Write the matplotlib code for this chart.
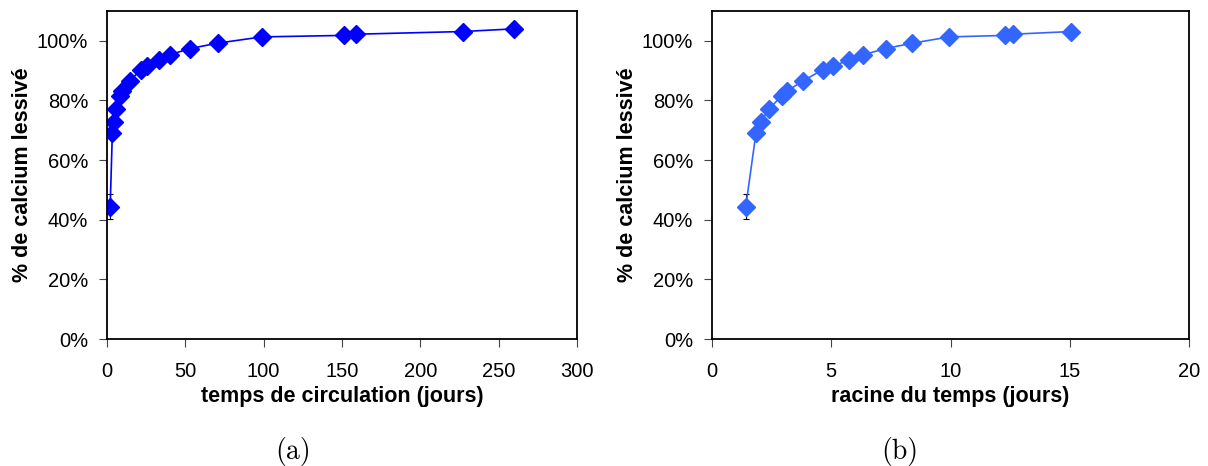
import numpy as np
import matplotlib
matplotlib.use("Agg")
from matplotlib import pyplot as plt
from matplotlib.ticker import PercentFormatter

# temps de circulation (jours) et % de calcium lessivé
jours = [2, 3.4, 4.2, 5.7, 8.5, 9.8, 14.7, 21.5, 25.6, 33, 40, 53, 70.6, 98.8, 151, 159, 227, 260]
calcium = [44.3, 69.1, 72.9, 77.1, 81.5, 83.1, 86.6, 90.3, 91.4, 93.6, 95.3, 97.4,
           99.2, 101.3, 101.8, 102.2, 103.1, 104.0]
erreur = [4.2] + [0] * (len(jours) - 1)

# panneau (b) : racine du temps, sans le dernier point
racine = np.sqrt(jours[:-1])
calcium_b = calcium[:-1]
erreur_b = erreur[:-1]

plt.rcParams['font.family'] = ['Liberation Sans', 'DejaVu Sans']

fig = plt.figure(figsize=(12.08, 4.66), dpi=100)
ax1 = fig.add_axes([0.0886, 0.2725, 0.389, 0.704])
ax2 = fig.add_axes([0.5894, 0.2725, 0.395, 0.704])


def style(ax, x, y, yerr, col, xmax, xstep, xlabel):
    ax.errorbar(x, y, yerr=[e if e else np.nan for e in yerr], fmt='none',
                ecolor='black', elinewidth=0.8, capsize=2.5, capthick=0.8, zorder=1)
    ax.plot(x, y, color=col, lw=1.2, marker='D', markersize=9, zorder=2)
    ax.set_xlim(0, xmax)
    ax.set_ylim(0, 110)
    ax.set_xticks(np.arange(0, xmax + 1, xstep))
    ax.set_yticks(np.arange(0, 101, 20))
    ax.yaxis.set_major_formatter(PercentFormatter(decimals=0))
    ax.tick_params(labelsize=14.5, length=6, direction='out', color='#444444')
    ax.tick_params(axis='x', pad=10.5)
    ax.tick_params(axis='y', pad=7.5)
    ax.set_xlabel(xlabel, fontsize=15.5, fontweight='bold', labelpad=3.5)
    ax.set_ylabel('% de calcium lessivé', fontsize=15.5, fontweight='bold', labelpad=3)
    for s in ax.spines.values():
        s.set_linewidth(1.3)


style(ax1, jours, calcium, erreur, '#0000FF', 300, 50, 'temps de circulation (jours)')
style(ax2, racine, calcium_b, erreur_b, '#3366FF', 20, 5, 'racine du temps (jours)')

# légendes des sous-figures
fig.text(293 / 1208, 1 - 451 / 466, '(a)', ha='center', va='center',
         fontsize=20, family=['cmr10', 'DejaVu Serif'])
fig.text(900 / 1208, 1 - 451 / 466, '(b)', ha='center', va='center',
         fontsize=20, family=['cmr10', 'DejaVu Serif'])

fig.savefig('out.png', dpi=100)
